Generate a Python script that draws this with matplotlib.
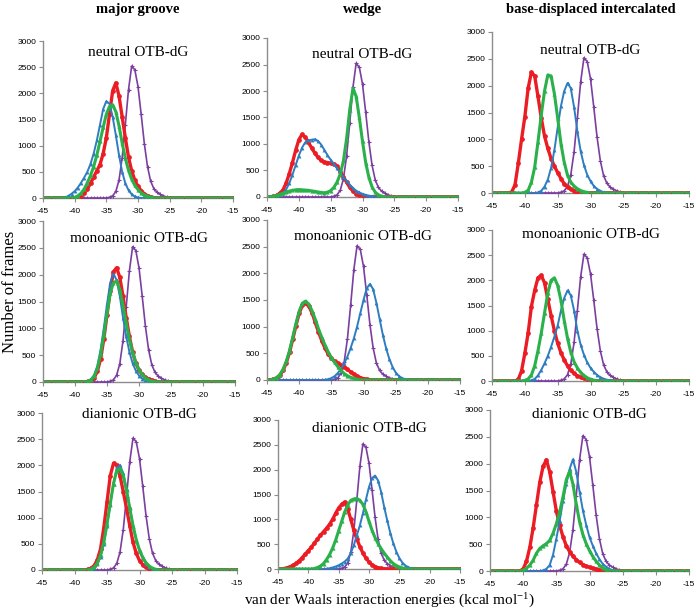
import numpy as np
import matplotlib.pyplot as plt

plt.rcParams['axes.unicode_minus'] = False
plt.rcParams['mathtext.fontset'] = 'stix'

# bin centres of the vdW energy histograms (kcal/mol)
energy = np.arange(-45, -14.75, 0.5)

# each curve: (energy of first listed bin, counts per 0.5 kcal/mol bin); bins not listed are 0
# purple curve is the same in every panel
purple = (-35.0, [0, 15, 40, 125, 340, 770, 1400, 2070, 2520, 2450, 2130, 1600, 1040,
                  600, 320, 180, 110, 70, 40, 20, 8, 0])

# major groove
mg_neu_red = (-40.0, [0, 10, 40, 90, 170, 280, 400, 520, 640, 850, 1150, 1600, 2050, 2200,
                      1950, 1550, 1150, 780, 520, 340, 220, 140, 80, 45, 20, 8, 0])
mg_neu_blue = (-42.0, [0, 10, 40, 80, 130, 200, 290, 390, 500, 650, 850, 1100, 1400, 1700,
                       1850, 1800, 1550, 1200, 820, 500, 280, 150, 70, 30, 10, 0])
mg_neu_green = (-40.5, [0, 10, 40, 90, 170, 290, 430, 600, 820, 1080, 1350, 1600, 1750, 1780,
                        1650, 1380, 1050, 760, 530, 360, 240, 160, 100, 60, 35, 18, 6, 0])
mg_mono_red = (-38.5, [0, 10, 30, 80, 200, 430, 800, 1250, 1700, 2050, 2130, 1950, 1600, 1200,
                       850, 560, 350, 220, 140, 90, 55, 30, 12, 0])
mg_mono_blue = (-38.5, [0, 15, 50, 130, 300, 600, 1000, 1450, 1850, 2020, 1900, 1600, 1200,
                        850, 560, 350, 210, 120, 65, 35, 15, 5, 0])
mg_mono_green = (-38.5, [0, 10, 40, 110, 260, 520, 880, 1280, 1650, 1850, 1880, 1720, 1430,
                         1100, 800, 550, 360, 230, 140, 80, 40, 15, 5, 0])
mg_di_red = (-38.5, [0, 10, 30, 80, 190, 400, 800, 1300, 1800, 2040, 2000, 1800, 1500, 1180,
                     850, 530, 320, 180, 100, 50, 20, 8, 0])
mg_di_blue = (-38.0, [0, 10, 40, 110, 250, 500, 850, 1250, 1650, 1950, 2000, 1850, 1550, 1200,
                      850, 570, 360, 220, 120, 60, 25, 8, 0])
mg_di_green = (-38.0, [0, 15, 50, 130, 280, 530, 880, 1270, 1650, 1900, 1940, 1800, 1520, 1180,
                       850, 580, 380, 240, 140, 75, 35, 12, 0])

# wedge
w_neu_red = (-44.5, [0, 10, 30, 70, 130, 260, 440, 650, 880, 1080, 1180, 1130, 1030, 930, 830,
                     750, 690, 660, 650, 640, 620, 580, 480, 380, 280, 180, 110, 60, 30, 15, 5, 0])
w_neu_blue = (-44.0, [0, 10, 30, 70, 140, 260, 420, 600, 780, 930, 1030, 1070, 1080, 1090, 1060,
                      990, 890, 790, 700, 620, 540, 460, 380, 300, 230, 170, 120, 85, 60, 40, 25,
                      15, 8, 3, 0])
w_neu_green = (-45.0, [0, 5, 15, 30, 50, 70, 90, 110, 125, 135, 140, 135, 130, 125, 115, 105, 95,
                       85, 80, 90, 120, 180, 280, 430, 680, 1100, 1650, 2050, 1900, 1500, 1050,
                       650, 370, 190, 90, 40, 15, 5, 0])
w_mono_red = (-44.5, [0, 15, 40, 90, 180, 320, 520, 760, 1020, 1250, 1400, 1440, 1380, 1260, 1080,
                      900, 740, 600, 490, 410, 350, 310, 280, 250, 200, 150, 110, 75, 45, 25, 12,
                      5, 0])
w_mono_blue = (-36.5, [0, 5, 15, 35, 70, 130, 210, 310, 440, 600, 780, 1000, 1250, 1500, 1720,
                       1800, 1700, 1450, 1150, 850, 600, 400, 250, 140, 75, 35, 15, 5, 0])
w_mono_green = (-44.5, [0, 15, 45, 100, 200, 350, 550, 800, 1060, 1290, 1440, 1480, 1420, 1300,
                        1140, 960, 800, 660, 530, 420, 330, 250, 180, 120, 80, 50, 30, 15, 5, 0])
w_di_red = (-44.5, [0, 10, 25, 45, 75, 115, 165, 230, 300, 370, 440, 520, 600, 680, 750, 820, 900,
                    1000, 1120, 1230, 1300, 1350, 1200, 1000, 780, 600, 450, 320, 220, 140, 85,
                    50, 25, 12, 5, 0])
w_di_blue = (-37.5, [0, 5, 15, 30, 50, 75, 110, 150, 210, 320, 480, 680, 880, 1120, 1400, 1650,
                     1830, 1880, 1780, 1550, 1250, 980, 730, 520, 350, 220, 130, 70, 35, 15, 5, 0])
w_di_green = (-39.5, [0, 10, 30, 60, 110, 190, 290, 420, 580, 770, 960, 1150, 1290, 1380, 1410,
                      1420, 1380, 1300, 1150, 960, 780, 630, 510, 410, 320, 240, 170, 110, 70, 40,
                      20, 8, 0])

# base-displaced intercalated
bd_neu_red = (-42.5, [0, 20, 150, 550, 1000, 1420, 1950, 2250, 2180, 1800, 1400, 1060, 830, 640,
                      500, 380, 270, 170, 110, 70, 45, 25, 12, 5, 0])
bd_neu_blue = (-38.5, [0, 10, 40, 120, 250, 470, 800, 1220, 1620, 1900, 2050, 1950, 1600, 1150,
                       780, 520, 340, 220, 130, 75, 40, 15, 5, 0])
bd_neu_green = (-40.5, [0, 10, 50, 200, 480, 950, 1450, 1900, 2200, 2180, 1850, 1400, 920, 570,
                        330, 200, 130, 80, 45, 25, 10, 0])
bd_mono_red = (-41.5, [0, 30, 200, 550, 950, 1480, 1800, 2050, 2100, 1950, 1620, 1300, 1000, 750,
                       560, 420, 300, 210, 150, 105, 75, 50, 30, 15, 5, 0])
bd_mono_blue = (-39.5, [0, 10, 40, 110, 220, 350, 500, 680, 880, 1100, 1400, 1650, 1800, 1700,
                        1400, 1000, 720, 520, 370, 260, 180, 120, 75, 45, 25, 10, 0])
bd_mono_green = (-40.5, [0, 10, 40, 120, 300, 600, 950, 1350, 1750, 2000, 2050, 1900, 1600, 1200,
                         850, 570, 380, 260, 170, 110, 65, 35, 15, 5, 0])
bd_di_red = (-40.5, [0, 40, 180, 440, 800, 1230, 1650, 1950, 2070, 1850, 1480, 1120, 850, 640,
                     470, 360, 280, 210, 160, 120, 90, 70, 50, 35, 20, 10, 0])
bd_di_blue = (-37.5, [0, 10, 40, 110, 300, 600, 930, 1300, 1620, 1900, 2080, 1850, 1480, 1130,
                      860, 630, 470, 330, 220, 130, 80, 40, 15, 0])
bd_di_green = (-40.5, [0, 15, 50, 110, 200, 330, 420, 470, 510, 570, 700, 880, 1100, 1380, 1700,
                       1860, 1620, 1250, 920, 680, 510, 380, 270, 180, 110, 60, 25, 8, 0])

columns = ['major groove', 'wedge', 'base-displaced intercalated']
rows = ['neutral OTB-dG', 'monoanionic OTB-dG', 'dianionic OTB-dG']
panels = [[(mg_neu_red, mg_neu_blue, mg_neu_green),
           (w_neu_red, w_neu_blue, w_neu_green),
           (bd_neu_red, bd_neu_blue, bd_neu_green)],
          [(mg_mono_red, mg_mono_blue, mg_mono_green),
           (w_mono_red, w_mono_blue, w_mono_green),
           (bd_mono_red, bd_mono_blue, bd_mono_green)],
          [(mg_di_red, mg_di_blue, mg_di_green),
           (w_di_red, w_di_blue, w_di_green),
           (bd_di_red, bd_di_blue, bd_di_green)]]

# axes boxes in pixels: left, right, top, bottom, title centre y
boxes = [[(43, 233, 41, 198, 53), (267, 458, 38, 197, 55), (492, 689, 32, 193, 50)],
         [(43, 235, 221, 382, 238), (267, 460, 220, 380, 237), (492, 689, 230, 381, 235)],
         [(42, 237, 413, 570, 415), (278, 460, 420, 569, 429), (490, 689, 410, 571, 415)]]

RED, BLUE, GREEN, PURPLE = '#ec1c24', '#2e7dc0', '#2bb14b', '#7a3f9f'
W, H = 696, 613


def on_grid(curve):
    start, counts = curve
    y = np.zeros(len(energy))
    i = int(round((start + 45) / 0.5))
    y[i:i + len(counts)] = counts
    return y


fig = plt.figure(figsize=(W / 100, H / 100), dpi=100)

for r in range(3):
    for c in range(3):
        L, R, T, B, ty = boxes[r][c]
        ax = fig.add_axes([L / W, 1 - B / H, (R - L) / W, (B - T) / H])
        red, blue, green = panels[r][c]
        ax.plot(energy, on_grid(purple), color=PURPLE, lw=1.2, marker='+', ms=3, mew=0.8)
        ax.plot(energy, on_grid(red), color=RED, lw=2.4, marker='o', ms=3.4, mew=0)
        ax.plot(energy, on_grid(blue), color=BLUE, lw=1.4, marker='^', ms=2.8, mew=0)
        ax.plot(energy, on_grid(green), color=GREEN, lw=2.2, marker='^', ms=3, mew=0)
        ax.set_xlim(-45, -15)
        ax.set_ylim(0, 3000)
        ax.set_xticks(range(-45, -14, 5))
        ax.set_yticks(range(0, 3001, 500))
        for s in ['top', 'right']:
            ax.spines[s].set_visible(False)
        for s in ['left', 'bottom']:
            ax.spines[s].set_color('#8c8c8c')
            ax.spines[s].set_linewidth(1.0)
        ax.spines['bottom'].set_zorder(0)
        ax.tick_params(axis='both', labelsize=6, length=3, width=0.8, color='#8c8c8c', pad=2)
        ax.tick_params(axis='x', pad=4)
        for lab in ax.get_xticklabels() + ax.get_yticklabels():
            lab.set_family('Liberation Sans')
        fig.text((L + R) / 2 / W, 1 - ty / H, rows[r], ha='center', va='center',
                 family='Liberation Serif', fontsize=11)
        if r == 0:
            fig.text((L + R) / 2 / W, 1 - 9 / H, columns[c], ha='center', va='center',
                     family='Liberation Serif', fontsize=10.5, fontweight='bold')

fig.text(10 / W, 1 - 292 / H, 'Number of frames', rotation=90, ha='center', va='center',
         family='Liberation Serif', fontsize=12)
fig.text(390 / W, 1 - 600 / H, 'van der Waals interaction energies (kcal mol$^{\\mathregular{-1}}$)',
         ha='center', va='center', family='Liberation Serif', fontsize=11)

fig.savefig('out.png', dpi=100)
